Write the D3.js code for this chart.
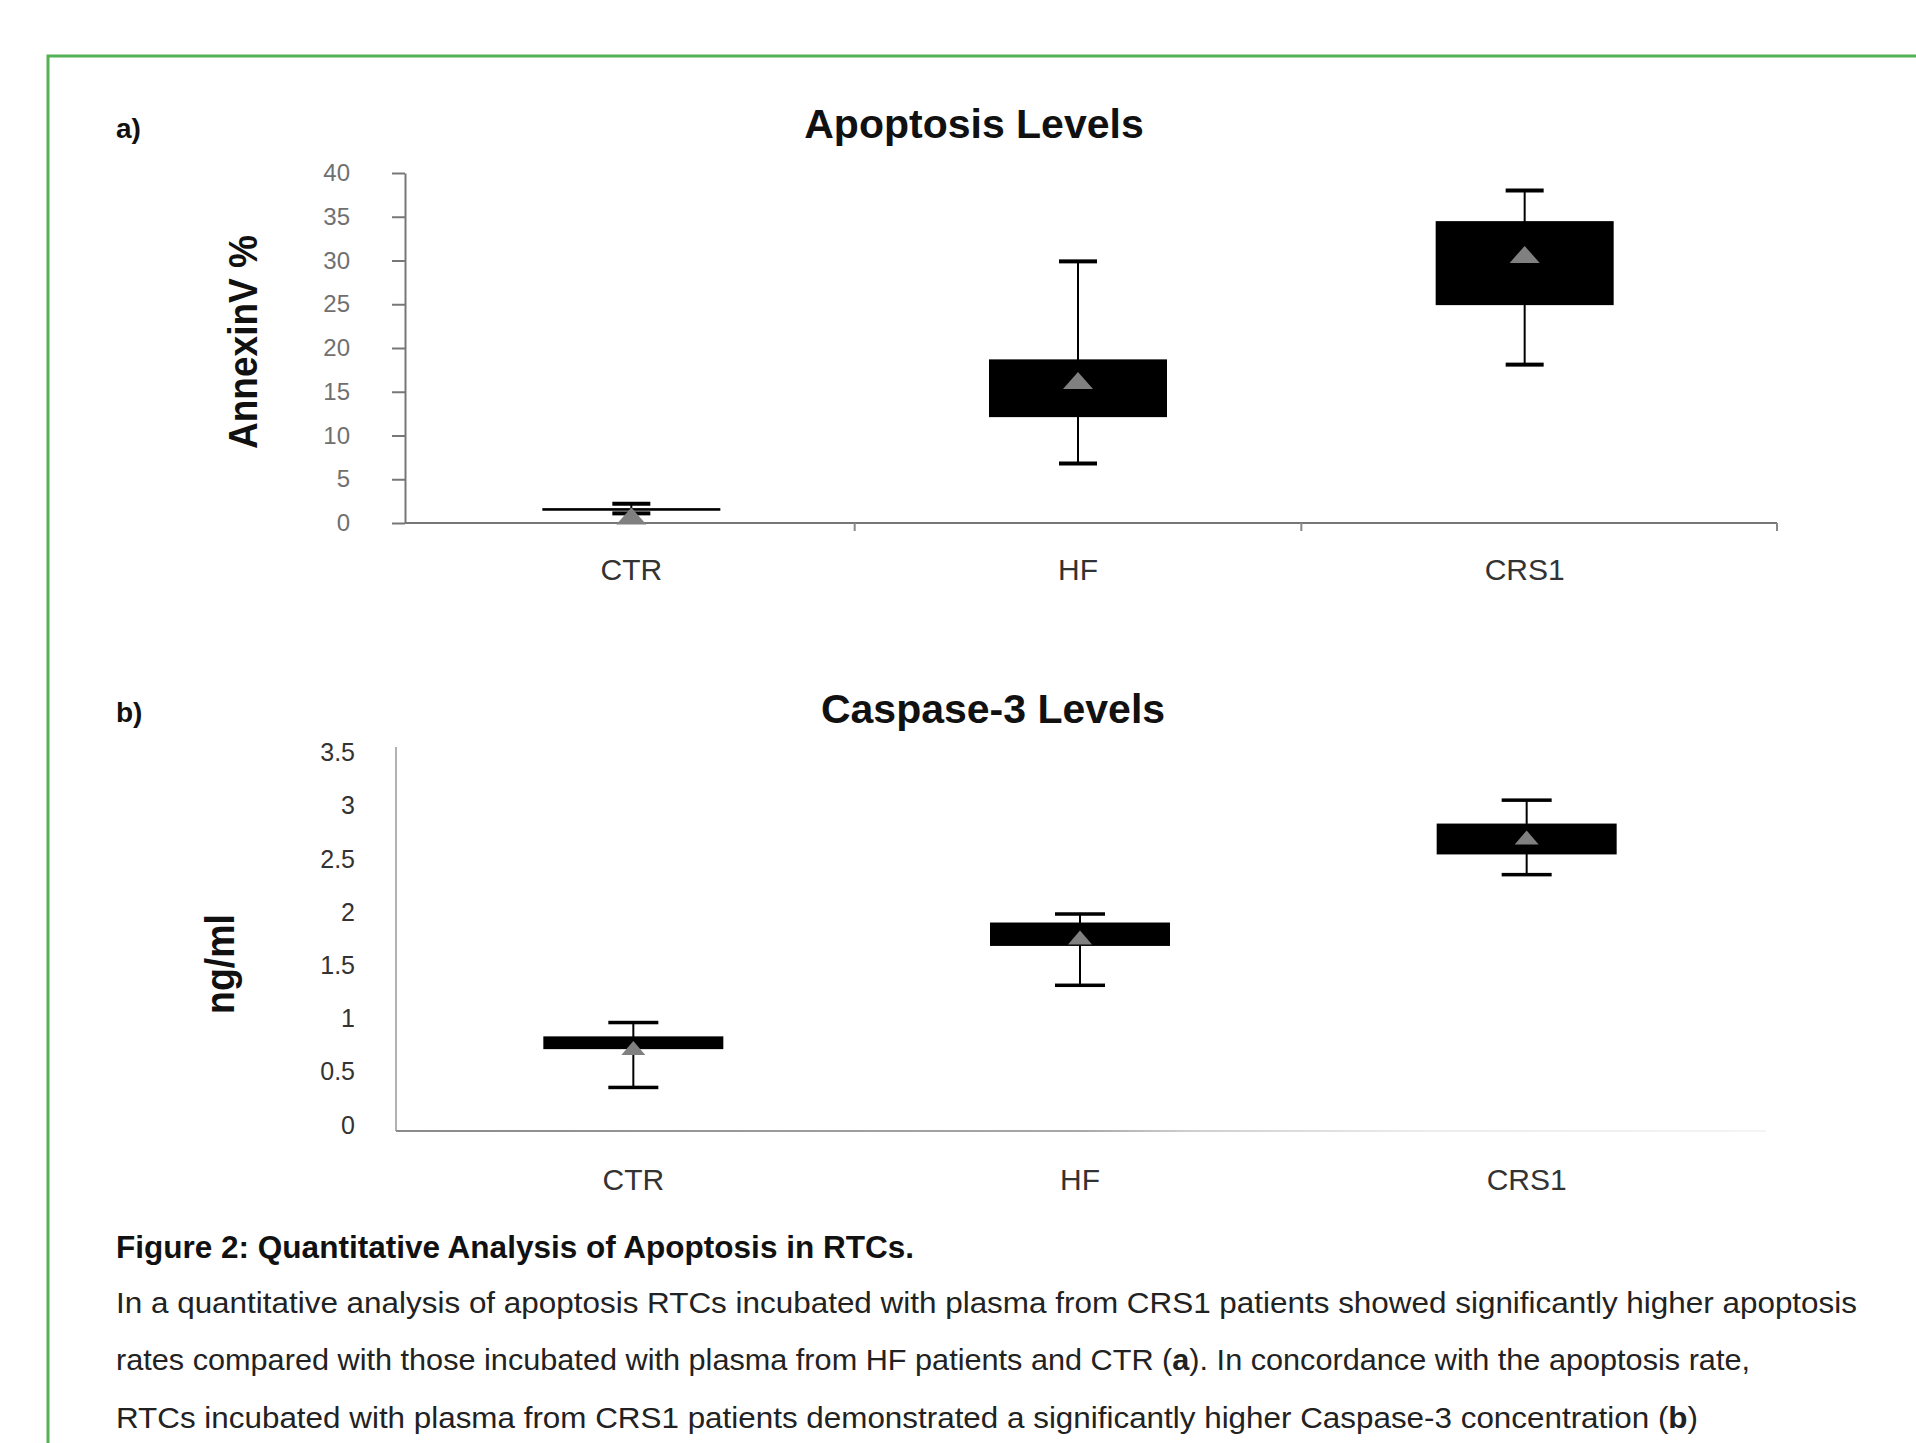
<!DOCTYPE html>
<html><head><meta charset="utf-8">
<script src="https://cdn.jsdelivr.net/npm/d3@7"></script>
<style>html,body{margin:0;padding:0;background:#fff;overflow:hidden}svg{display:block}</style>
</head><body><svg id="c" width="1916" height="1443"></svg>
<script>
// ---- data ----
const categories = ["CTR", "HF", "CRS1"];
// a) Apoptosis levels (AnnexinV %)
const apoMin  = [1.1, 6.8, 18.1];
const apoQ1   = [1.4, 12.1, 24.9];
const apoQ3   = [1.7, 18.7, 34.5];
const apoMax  = [2.2, 29.9, 38.0];
const apoMean = [0.8, 16.3, 30.7];
const apoTicks = [0, 5, 10, 15, 20, 25, 30, 35, 40];
// b) Caspase-3 levels (ng/ml)
const casMin  = [0.40, 1.36, 2.40];
const casQ1   = [0.76, 1.73, 2.59];
const casQ3   = [0.88, 1.95, 2.88];
const casMax  = [1.01, 2.03, 3.10];
const casMean = [0.77, 1.81, 2.75];
const casTicks = [0, 0.5, 1, 1.5, 2, 2.5, 3, 3.5];
// texts
const titleA = "Apoptosis Levels";
const titleB = "Caspase-3 Levels";
const ylabelA = "AnnexinV %";
const ylabelB = "ng/ml";
const captionTitle = "Figure 2: Quantitative Analysis of Apoptosis in RTCs.";
const captionLines = [
  [["In a quantitative analysis of apoptosis RTCs incubated with plasma from CRS1 patients showed significantly higher apoptosis", false]],
  [["rates compared with those incubated with plasma from HF patients and CTR (", false], ["a", true], ["). In concordance with the apoptosis rate,", false]],
  [["RTCs incubated with plasma from CRS1 patients demonstrated a significantly higher Caspase-3 concentration  (", false], ["b", true], [")", false]]
];

const FONT = "'Liberation Sans', Arial, Helvetica, sans-serif";
const svg = d3.select("#c");

// green frame
svg.append("path").attr("d", "M48,1443 V56 H1916").attr("fill", "none")
  .attr("stroke", "#55b155").attr("stroke-width", 3);

function txt(x, y, s, size, weight, fill, anchor) {
  return svg.append("text").attr("x", x).attr("y", y).text(s)
    .attr("font-family", FONT).attr("font-size", size).attr("font-weight", weight || "normal")
    .attr("fill", fill || "#000").attr("text-anchor", anchor || "start");
}

function drawBoxes(g, x, y, mins, q1, q3, maxs, means, capW, capH, triW, triH, boxW) {
  categories.forEach((c, i) => {
    const cx = x(c) + x.bandwidth() / 2;
    g.append("line").attr("x1", cx).attr("x2", cx).attr("y1", y(mins[i])).attr("y2", y(maxs[i]))
      .attr("stroke", "#000").attr("stroke-width", 2);
    g.append("rect").attr("x", cx - boxW / 2).attr("y", y(q3[i]))
      .attr("width", boxW).attr("height", Math.max(2.5, y(q1[i]) - y(q3[i]))).attr("fill", "#000");
    [mins[i], maxs[i]].forEach(v => {
      g.append("rect").attr("x", cx - capW / 2).attr("y", y(v) - capH / 2)
        .attr("width", capW).attr("height", capH).attr("fill", "#000");
    });
    const my = y(means[i]);
    g.append("path")
      .attr("d", `M${cx - triW / 2},${my + triH / 2} L${cx},${my - triH / 2} L${cx + triW / 2},${my + triH / 2} Z`)
      .attr("fill", "#808080");
  });
}

// ---------- panel a ----------
const xa = d3.scaleBand().domain(categories).range([408, 1748]).padding(0);
const ya = d3.scaleLinear().domain([0, 40]).range([523, 173]);
const ga = svg.append("g");

txt(116, 138, "a)", 28, "bold", "#111");
txt(974, 138, titleA, 41, "bold", "#111", "middle");
svg.append("text").attr("transform", "translate(257,342) rotate(-90)")
  .attr("text-anchor", "middle").attr("font-family", FONT).attr("font-size", 40)
  .attr("font-weight", "bold").attr("fill", "#111")
  .attr("textLength", 214).attr("lengthAdjust", "spacingAndGlyphs").text(ylabelA);

const yAxisA = ga.append("g").attr("transform", "translate(405,0)")
  .call(d3.axisLeft(ya).tickValues(apoTicks).tickSize(13).tickSizeOuter(0).tickPadding(42));
yAxisA.select(".domain").attr("stroke", "#777").attr("stroke-width", 2);
yAxisA.selectAll(".tick line").attr("stroke", "#777").attr("stroke-width", 2);
yAxisA.selectAll(".tick text").attr("font-family", FONT).attr("font-size", 24).attr("fill", "#707070");

// x axis a
const axEnd = 1777;
ga.append("line").attr("x1", 405).attr("x2", axEnd).attr("y1", ya(0)).attr("y2", ya(0))
  .attr("stroke", "#777").attr("stroke-width", 2);
categories.slice(1).map(c => xa(c)).concat([axEnd]).forEach(tx => {
  ga.append("line").attr("x1", tx).attr("x2", tx).attr("y1", ya(0)).attr("y2", ya(0) + 8)
    .attr("stroke", "#888").attr("stroke-width", 2);
});
categories.forEach(c => {
  ga.append("text").attr("x", xa(c) + xa.bandwidth() / 2).attr("y", 580).text(c)
    .attr("font-family", FONT).attr("font-size", 30).attr("fill", "#333").attr("text-anchor", "middle");
});
drawBoxes(ga, xa, ya, apoMin, apoQ1, apoQ3, apoMax, apoMean, 38, 4, 30, 17, 178);

// ---------- panel b ----------
const xb = d3.scaleBand().domain(categories).range([410, 1750]).padding(0);
const yb = d3.scaleLinear().domain([0, 3.5]).range([1130, 757.6]);
const gb = svg.append("g");

txt(116, 722, "b)", 28, "bold", "#111");
txt(993, 723, titleB, 41, "bold", "#111", "middle");
svg.append("text").attr("transform", "translate(234,964) rotate(-90)")
  .attr("text-anchor", "middle").attr("font-family", FONT).attr("font-size", 40)
  .attr("font-weight", "bold").attr("fill", "#111")
  .attr("textLength", 100).attr("lengthAdjust", "spacingAndGlyphs").text(ylabelB);

const yAxisB = gb.append("g").attr("transform", "translate(396,0)")
  .call(d3.axisLeft(yb).tickValues(casTicks).tickSize(0).tickPadding(41).tickFormat(d => String(d)));
yAxisB.select(".domain").remove();
yAxisB.selectAll(".tick text").attr("font-family", FONT).attr("font-size", 25).attr("fill", "#333").attr("y", -5);
gb.append("line").attr("x1", 396).attr("x2", 396).attr("y1", 1131).attr("y2", yb(3.6))
  .attr("stroke", "#999").attr("stroke-width", 1.5);

const defs = svg.append("defs");
const grad = defs.append("linearGradient").attr("id", "axb").attr("gradientUnits", "userSpaceOnUse")
  .attr("x1", 396).attr("x2", 1766).attr("y1", 0).attr("y2", 0);
grad.append("stop").attr("offset", "0%").attr("stop-color", "#8a8a8a");
grad.append("stop").attr("offset", "50%").attr("stop-color", "#a8a8a8");
grad.append("stop").attr("offset", "58%").attr("stop-color", "#cfcfcf");
grad.append("stop").attr("offset", "75%").attr("stop-color", "#ececec");
grad.append("stop").attr("offset", "100%").attr("stop-color", "#f4f4f4");
gb.append("line").attr("x1", 396).attr("x2", 1766).attr("y1", 1131).attr("y2", 1131)
  .attr("stroke", "url(#axb)").attr("stroke-width", 2);
categories.forEach(c => {
  gb.append("text").attr("x", xb(c) + xb.bandwidth() / 2).attr("y", 1190).text(c)
    .attr("font-family", FONT).attr("font-size", 30).attr("fill", "#333").attr("text-anchor", "middle");
});
drawBoxes(gb, xb, yb, casMin, casQ1, casQ3, casMax, casMean, 50, 3.5, 24, 14, 180);

// ---------- caption ----------
svg.append("text").attr("x", 116).attr("y", 1258).attr("font-family", FONT).attr("font-size", 31)
  .attr("font-weight", "bold").attr("fill", "#111")
  .attr("textLength", 798).attr("lengthAdjust", "spacingAndGlyphs").text(captionTitle);
const lineY = [1313, 1370, 1428];
const lineW = [1741, 1634, 1582];
captionLines.forEach((parts, i) => {
  const t = svg.append("text").attr("x", 116).attr("y", lineY[i]).attr("font-family", FONT)
    .attr("font-size", 29).attr("fill", "#222")
    .attr("textLength", lineW[i]).attr("lengthAdjust", "spacingAndGlyphs");
  parts.forEach(([s, b]) => t.append("tspan").attr("font-weight", b ? "bold" : "normal").text(s));
});
</script>
</body></html>
